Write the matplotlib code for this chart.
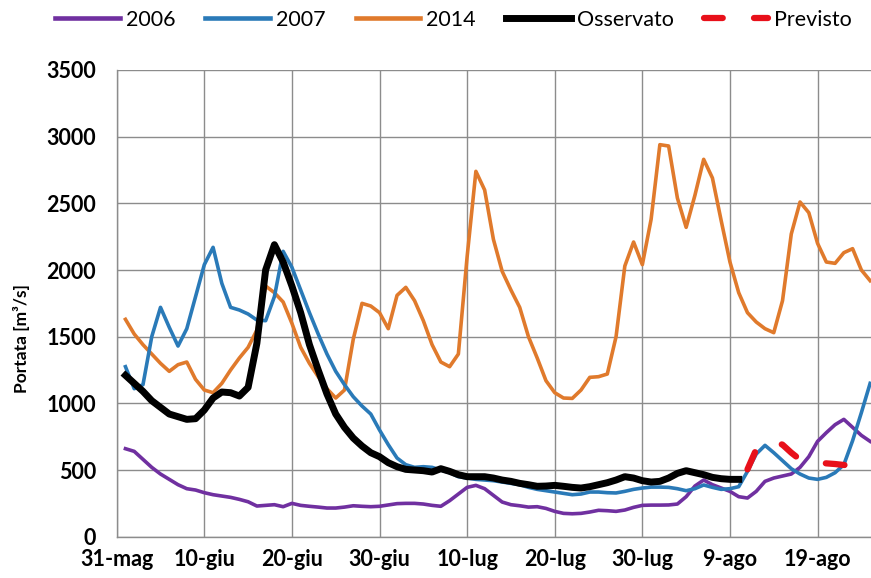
import numpy as np
import matplotlib
matplotlib.use("Agg")
from matplotlib import pyplot as plt

plt.rcParams["font.family"] = ["Lato", "DejaVu Sans"]

# giorni dal 31-mag
days = np.arange(1, 87)
tick_days = [0, 10, 20, 30, 40, 50, 60, 70, 80]
tick_labels = ["31-mag", "10-giu", "20-giu", "30-giu", "10-lug",
               "20-lug", "30-lug", "9-ago", "19-ago"]

q_2006 = [660, 640, 580, 520, 470, 430, 390, 360, 350, 330,
          315, 305, 295, 280, 262, 230, 235, 240, 225, 250,
          235, 228, 222, 215, 215, 222, 232, 228, 225, 228,
          238, 248, 250, 250, 245, 235, 228, 270, 320, 370,
          385, 360, 310, 260, 240, 232, 222, 225, 212, 190,
          175, 172, 175, 185, 198, 195, 190, 200, 220, 235,
          237, 237, 238, 245, 300, 380, 425, 390, 365, 340,
          300, 290, 340, 415, 440, 455, 470, 520, 600, 715,
          780, 840, 880, 820, 760, 715]

q_2007 = [1275, 1110, 1140, 1500, 1720, 1570, 1430, 1560, 1800, 2040,
          2170, 1900, 1720, 1700, 1670, 1625, 1620, 1800, 2140, 2020,
          1850, 1680, 1520, 1370, 1240, 1140, 1050, 980, 920, 800,
          690, 590, 540, 520, 525, 520, 500, 480, 450, 440,
          430, 425, 420, 410, 400, 390, 370, 355, 345, 335,
          325, 315, 320, 335, 335, 330, 328, 340, 355, 365,
          372, 372, 370, 360, 345, 360, 388, 370, 355, 360,
          375, 490, 620, 685, 630, 570, 510, 470, 440, 430,
          445, 480, 540, 720, 930, 1150]

q_2014 = [1630, 1520, 1440, 1370, 1300, 1240, 1290, 1310, 1180, 1100,
          1080, 1150, 1250, 1340, 1420, 1550, 1880, 1830, 1760, 1600,
          1420, 1300, 1200, 1110, 1040, 1100, 1480, 1750, 1730, 1680,
          1560, 1810, 1870, 1770, 1620, 1440, 1310, 1275, 1370, 2100,
          2740, 2600, 2230, 1990, 1850, 1720, 1500, 1340, 1170, 1080,
          1040, 1037, 1100, 1195, 1200, 1220, 1500, 2030, 2210, 2040,
          2380, 2940, 2930, 2540, 2320, 2560, 2830, 2690, 2370, 2060,
          1830, 1680, 1610, 1560, 1530, 1770, 2270, 2510, 2430, 2200,
          2060, 2050, 2130, 2160, 2000, 1920]

obs_days = np.arange(1, 72)
q_obs = [1210, 1150, 1090, 1020, 970, 920, 900, 880, 885, 950,
         1040, 1085, 1080, 1055, 1120, 1450, 2000, 2190, 2060, 1880,
         1680, 1440, 1250, 1070, 920, 820, 740, 680, 630, 600,
         555, 525, 505, 500, 495, 485, 510, 490, 465, 450,
         450, 450, 440, 425, 415, 400, 390, 378, 380, 385,
         378, 370, 365, 375, 390, 405, 425, 450, 440, 420,
         410, 415, 440, 475, 495, 480, 465, 445, 435, 430, 430]

prev_days = np.arange(72, 85)
q_prev = [505, 655, 700, 715, 690, 630, 578, 560, 555, 550, 545, 538, 530]

fig = plt.figure(figsize=(8.71, 5.78), dpi=100)
ax = fig.add_axes([116.7 / 871, 41.3 / 578, (871 - 116.7) / 871, 466.7 / 578])

ax.plot(days, q_2006, color="#7030a0", lw=2.6, label="2006", zorder=3)
ax.plot(days, q_2007, color="#2a7ab8", lw=2.6, label="2007", zorder=4)
ax.plot(days, q_2014, color="#e07a2c", lw=2.6, label="2014", zorder=2)
ax.plot(obs_days, q_obs, color="black", lw=5.0, label="Osservato", zorder=5,
        solid_joinstyle="round")
ax.plot(prev_days, q_prev, color="#e8101a", lw=4.5, label="Previsto", zorder=6,
        dashes=(3.0, 5.0), dash_capstyle="round")

ax.set_xlim(0, 86.1)
ax.set_ylim(0, 3500)
ax.set_xticks(tick_days)
ax.set_xticklabels(tick_labels)
ax.set_yticks(np.arange(0, 3501, 500))
ax.grid(True, color="#8c8c8c", lw=1.0, zorder=0)
ax.set_axisbelow(True)
for side in ["top", "right"]:
    ax.spines[side].set_visible(False)
for side in ["left", "bottom"]:
    ax.spines[side].set_color("#8c8c8c")
    ax.spines[side].set_linewidth(1.0)
ax.tick_params(axis="both", length=0, labelsize=15.5)
ax.tick_params(axis="x", pad=9)
ax.tick_params(axis="y", pad=15)
for lab in ax.get_xticklabels() + ax.get_yticklabels():
    lab.set_fontweight("bold")

fig.text(22 / 871, 1 - 339 / 578, "Portata [m³/s]", rotation=90, ha="center",
         va="center", fontsize=12.5, fontweight="bold")

leg = fig.legend(loc="center left", bbox_to_anchor=(55 / 871, 1 - 20 / 578), ncol=5,
                 frameon=False, fontsize=15.5, handlelength=3.0, handletextpad=0.28,
                 columnspacing=1.4, borderpad=0, borderaxespad=0)
for line in leg.get_lines()[:3]:
    line.set_linewidth(3.3)

fig.savefig("out.png", dpi=100)
